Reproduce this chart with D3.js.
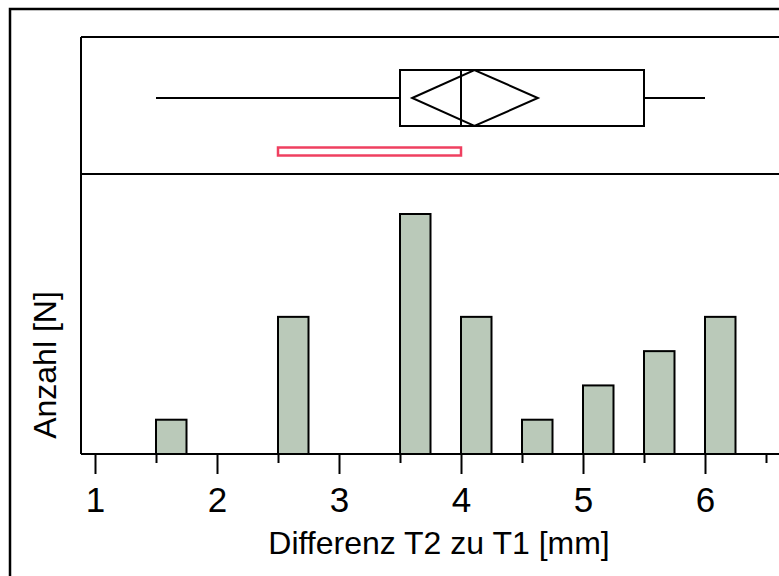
<!DOCTYPE html>
<html>
<head>
<meta charset="utf-8">
<script src="https://cdn.jsdelivr.net/npm/d3@7"></script>
<style>
  body { margin: 0; background: #fff; }
  svg { display: block; font-family: "Liberation Sans", Arial, sans-serif; }
</style>
</head>
<body>
<div class="viz"></div>
<script>
// histogram bins (start of each bar, 0.25 wide) and counts
const binStarts = [1.5, 2.5, 3.5, 4, 4.5, 5, 5.5, 6];
const binWidth = 0.25;
const counts = [1, 4, 7, 4, 1, 2, 3, 4];

// box plot summary
const whiskerLow = 1.5, whiskerHigh = 6;
const q1 = 3.5, median = 4, q3 = 5.5;
const mean = 4.11, ciLow = 3.6, ciHigh = 4.63;
// shortest half
const shorthLow = 2.5, shorthHigh = 4;

const majorTicks = [1, 2, 3, 4, 5, 6];
const minorTicks = [1.5, 2.5, 3.5, 4.5, 5.5, 6.5];

const width = 779, height = 576;
const plotLeft = 81, plotRight = 800, plotTop = 37, sepY = 174, axisY = 454;

const svg = d3.select(".viz").append("svg")
  .attr("width", width)
  .attr("height", height);

const x = d3.scaleLinear().domain([1, 6]).range([95, 705]);
const y = d3.scaleLinear().domain([0, 7]).range([axisY, 214]);

// outer frame
svg.append("rect")
  .attr("x", 10).attr("y", 9)
  .attr("width", 900).attr("height", 700)
  .attr("fill", "none").attr("stroke", "#000").attr("stroke-width", 2.5);

// bars
svg.append("g").attr("class", "bars")
  .selectAll("rect")
  .data(binStarts.map((s, i) => ({ s, n: counts[i] })))
  .join("rect")
  .attr("x", d => x(d.s))
  .attr("y", d => y(d.n))
  .attr("width", d => x(d.s + binWidth) - x(d.s))
  .attr("height", d => y(0) - y(d.n))
  .attr("fill", "#bac9b9")
  .attr("stroke", "#000")
  .attr("stroke-width", 2);

// frame lines of the plot
const frame = svg.append("g").attr("stroke", "#000").attr("stroke-width", 2);
frame.append("line").attr("x1", plotLeft).attr("x2", plotRight).attr("y1", plotTop).attr("y2", plotTop);
frame.append("line").attr("x1", plotLeft).attr("x2", plotRight).attr("y1", sepY).attr("y2", sepY);
frame.append("line").attr("x1", plotLeft).attr("x2", plotRight).attr("y1", axisY).attr("y2", axisY);
frame.append("line").attr("x1", plotLeft).attr("x2", plotLeft).attr("y1", plotTop).attr("y2", axisY);

// box plot
const boxTop = 70, boxBot = 126, midY = (boxTop + boxBot) / 2;
const bp = svg.append("g").attr("stroke", "#000").attr("stroke-width", 2).attr("fill", "none");
bp.append("line").attr("x1", x(whiskerLow)).attr("x2", x(q1)).attr("y1", midY).attr("y2", midY);
bp.append("line").attr("x1", x(q3)).attr("x2", x(whiskerHigh)).attr("y1", midY).attr("y2", midY);
bp.append("rect")
  .attr("x", x(q1)).attr("y", boxTop)
  .attr("width", x(q3) - x(q1)).attr("height", boxBot - boxTop);
bp.append("line").attr("x1", x(median)).attr("x2", x(median)).attr("y1", boxTop).attr("y2", boxBot);
bp.append("path")
  .attr("d", `M${x(ciLow)},${midY}L${x(mean)},${boxTop}L${x(ciHigh)},${midY}L${x(mean)},${boxBot}Z`);

// shortest half bracket
svg.append("rect")
  .attr("x", x(shorthLow)).attr("y", 147.5)
  .attr("width", x(shorthHigh) - x(shorthLow)).attr("height", 8)
  .attr("fill", "#fff")
  .attr("stroke", "#ef4060")
  .attr("stroke-width", 2.5);

// x axis
const major = svg.append("g")
  .attr("class", "x-axis")
  .attr("transform", `translate(0, ${axisY})`)
  .call(d3.axisBottom(x).tickValues(majorTicks).tickSize(20).tickSizeOuter(0).tickFormat(d3.format("d")));
major.select(".domain").remove();
major.selectAll("line").attr("stroke-width", 2);
major.selectAll("text")
  .attr("y", 58).attr("dy", 0)
  .attr("font-size", 35)
  .attr("font-family", "Liberation Sans, Arial, sans-serif")
  .attr("fill", "#000");

const minor = svg.append("g")
  .attr("transform", `translate(0, ${axisY})`)
  .call(d3.axisBottom(x).tickValues(minorTicks).tickSize(9).tickFormat(""));
minor.select(".domain").remove();
minor.selectAll("line").attr("stroke-width", 2);

// axis titles
svg.append("text")
  .attr("x", 439).attr("y", 554)
  .attr("text-anchor", "middle")
  .attr("font-size", 32)
  .text("Differenz T2 zu T1 [mm]");

svg.append("text")
  .attr("transform", "translate(56, 365) rotate(-90)")
  .attr("text-anchor", "middle")
  .attr("font-size", 32)
  .text("Anzahl [N]");
</script>
</body>
</html>
